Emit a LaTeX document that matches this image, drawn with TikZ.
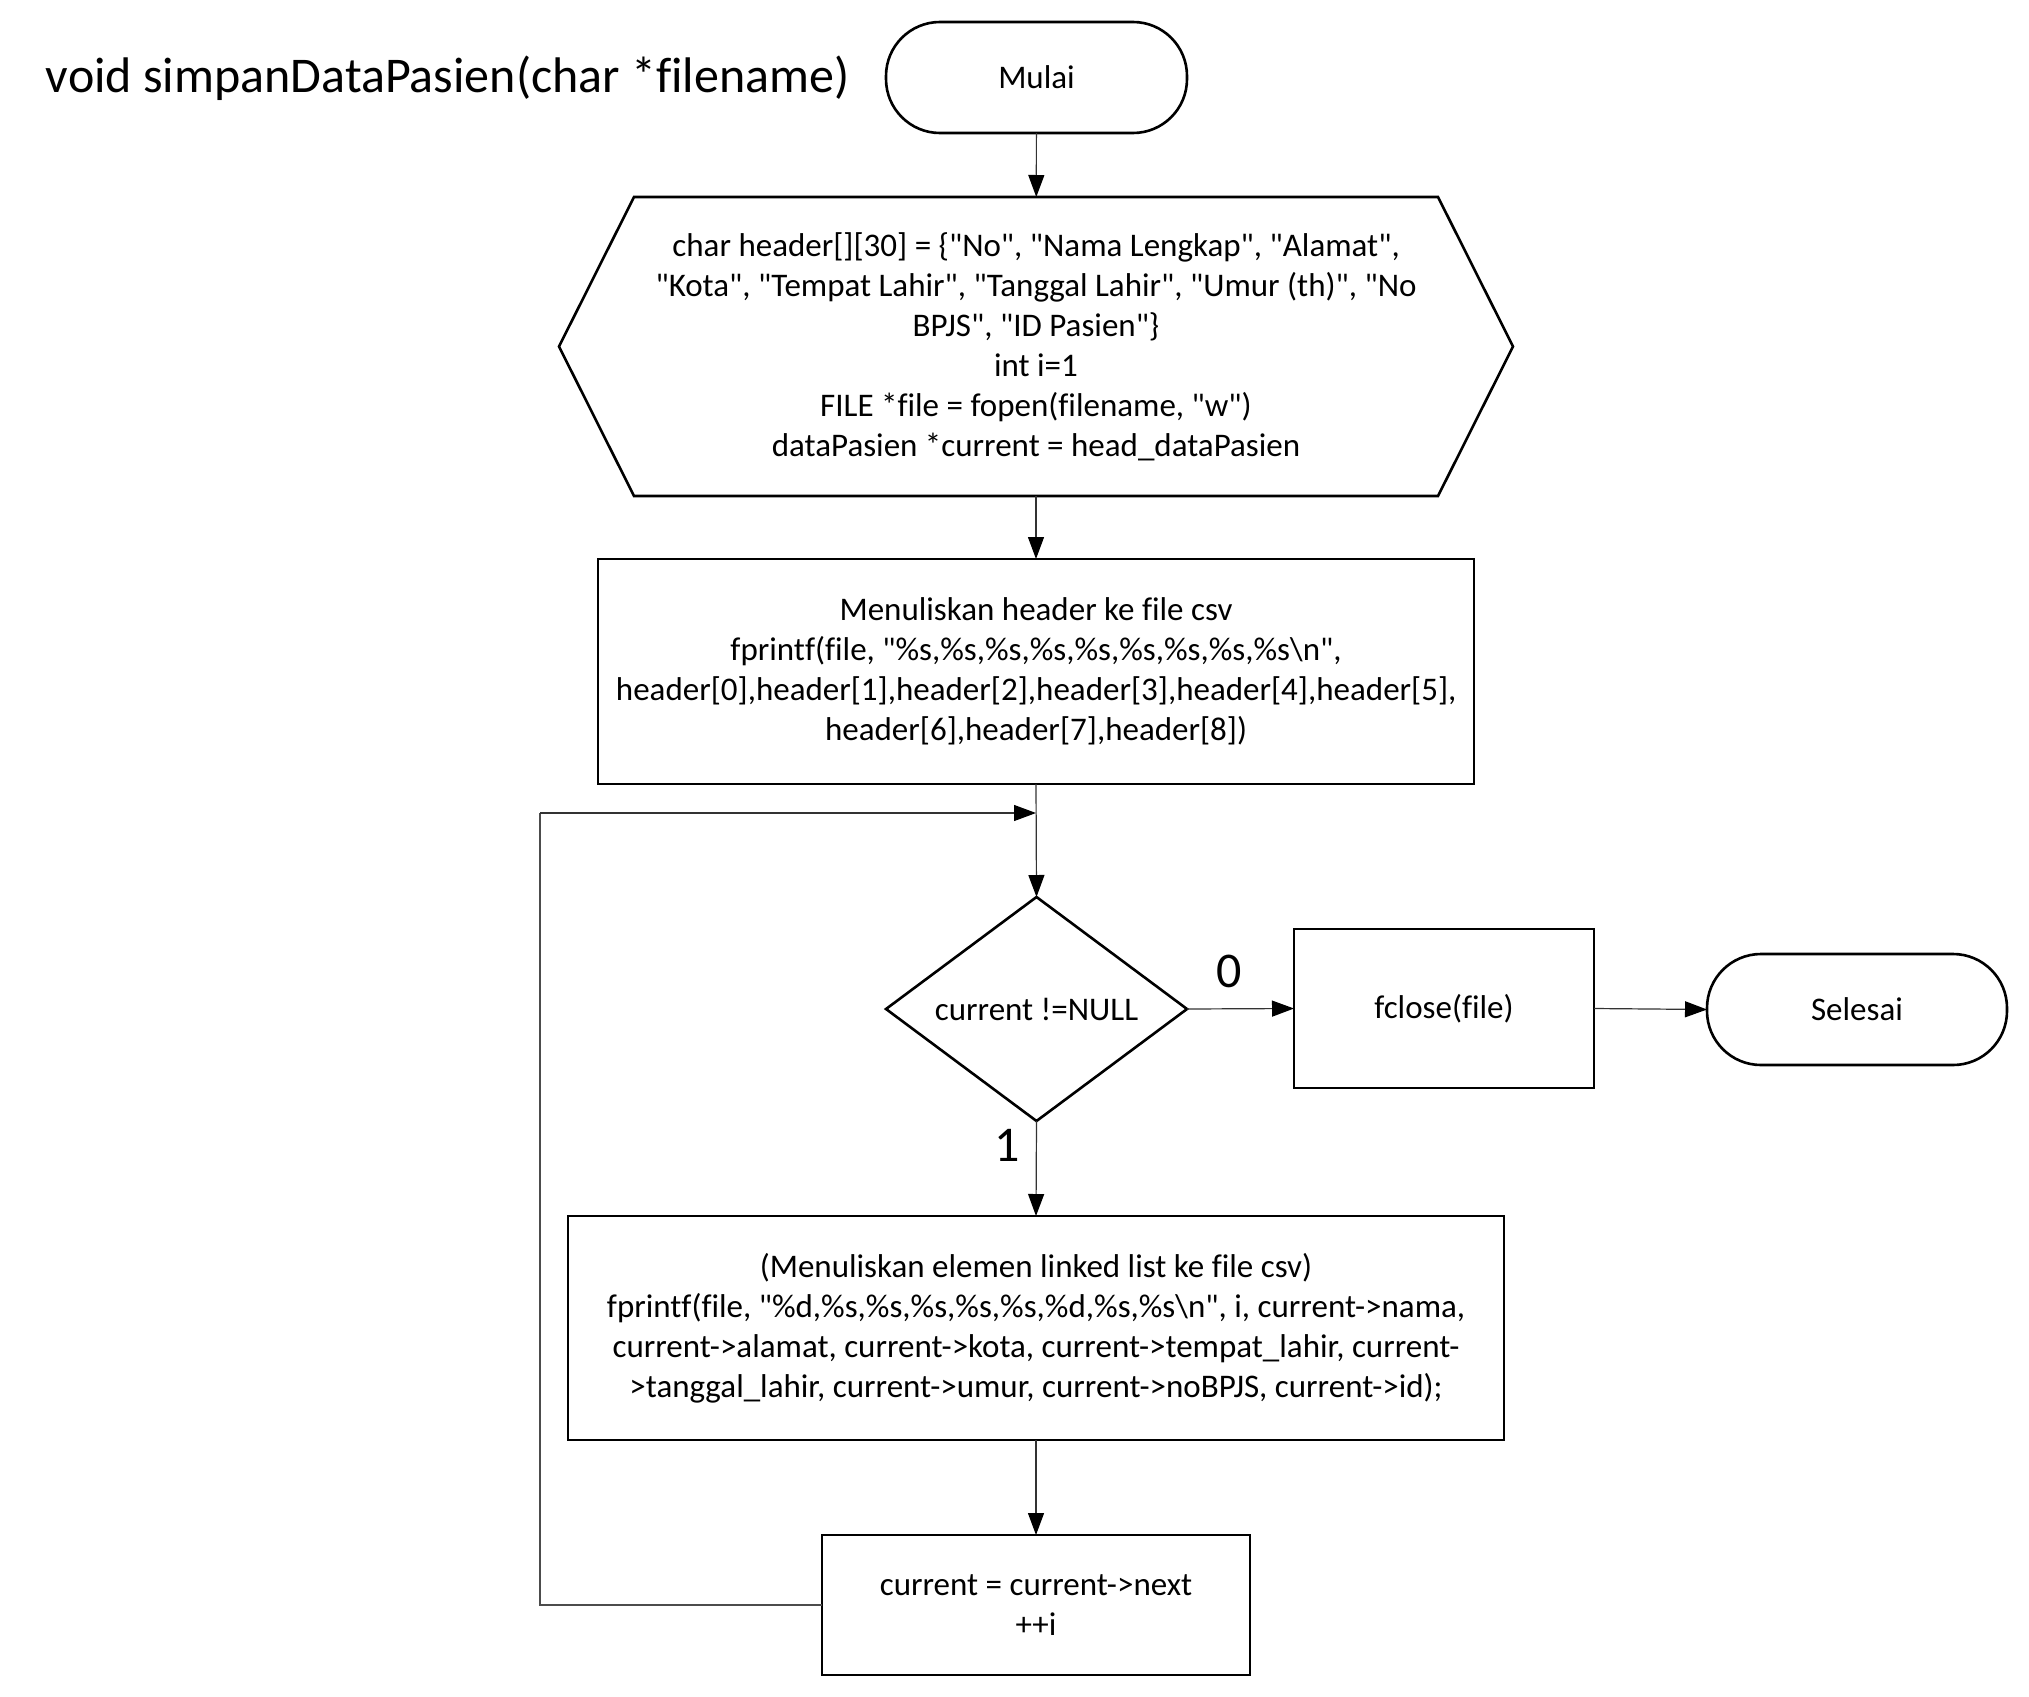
\documentclass[tikz,border=0pt]{standalone}
\usepackage{fontspec}
\setmainfont{Carlito}[Ligatures={TeXOff,CommonOff}]
\usetikzlibrary{arrows.meta}

\begin{document}
\begin{tikzpicture}[x=0.5pt,y=-0.5pt,
  every node/.style={inner sep=0pt, outer sep=0pt, font=\fontsize{16.5}{20}\selectfont, align=center},
  shapeline/.style={line width=1.3pt, draw=black},
  procbox/.style={shapeline, rectangle},
  termbox/.style={shapeline, rectangle, rounded corners=27pt},
  ghost/.style={rectangle, draw=none},
  conn/.style={line width=0.6pt, draw=black!80, -{Triangle[length=11pt,width=8pt,color=black]}},
  wire/.style={line width=0.6pt, draw=black!70},
  biglabel/.style={font=\fontsize{25}{30}\selectfont}
]
\useasboundingbox (0,0) rectangle (2029,1697);

% heading
\node[biglabel, anchor=west] (title) at (46,78) {void simpanDataPasien(char *filename)};

% start terminator
\node[termbox, minimum width=150.5pt, minimum height=55.5pt] (mulai) at (1036.5,77.5) {Mulai};

% initialisation (hexagon)
\node[ghost, minimum width=477pt, minimum height=149.5pt] (init) at (1036,346.5)
  {char header[][30] = \{"No", "Nama Lengkap", "Alamat",\\
   "Kota", "Tempat Lahir", "Tanggal Lahir", "Umur (th)", "No\\
   BPJS", "ID Pasien"\}\\
   int i=1\\
   FILE *file = fopen(filename, "w")\\
   dataPasien *current = head\_dataPasien};
\draw[shapeline, line join=miter]
  ([xshift=37.5pt]init.north west) -- ([xshift=-37.5pt]init.north east) -- (init.east)
  -- ([xshift=-37.5pt]init.south east) -- ([xshift=37.5pt]init.south west) -- (init.west) -- cycle;

% write header
\node[procbox, minimum width=438pt, minimum height=112.5pt] (hdr) at (1036,671.5)
  {Menuliskan header ke file csv\\
   fprintf(file, "\%s,\%s,\%s,\%s,\%s,\%s,\%s,\%s,\%s\textbackslash n",\\
   header[0],header[1],header[2],header[3],header[4],header[5],\\
   header[6],header[7],header[8])};

% loop condition (diamond)
\node[ghost, minimum width=150.5pt, minimum height=112pt] (cond) at (1036.5,1009) {current !=NULL};
\draw[shapeline, line join=miter]
  (cond.north) -- (cond.east) -- (cond.south) -- (cond.west) -- cycle;

% close file
\node[procbox, minimum width=150pt, minimum height=79.5pt] (close) at (1444,1008.5) {fclose(file)};

% end terminator
\node[termbox, minimum width=150pt, minimum height=55.5pt] (selesai) at (1857,1009.5) {Selesai};

% write one record
\node[procbox, minimum width=468pt, minimum height=112pt] (rec) at (1036,1328)
  {(Menuliskan elemen linked list ke file csv)\\
   fprintf(file, "\%d,\%s,\%s,\%s,\%s,\%s,\%d,\%s,\%s\textbackslash n", i, current->nama,\\
   current->alamat, current->kota, current->tempat\_lahir, current-\\
   >tanggal\_lahir, current->umur, current->noBPJS, current->id);};

% advance pointer
\node[procbox, minimum width=214pt, minimum height=70pt] (next) at (1036,1605)
  {current = current->next\\ ++i};

% branch labels
\node[biglabel] (lbl0) at (1229,971) {0};
\node[biglabel] (lbl1) at (1007,1145) {1};

% junction where the loop re-enters
\coordinate (join) at (1036,813);
\coordinate (back) at (540,813);

% connectors
\draw[conn] (mulai) -- (init);
\draw[conn] (init.south) -- (hdr.north);
\draw[conn] (hdr.south) -- (cond.north);
\draw[conn] (cond.east) -- (close.west);
\draw[conn] (close.east) -- (selesai.west);
\draw[conn] (cond.south) -- (rec.north);
\draw[conn] (rec.south) -- (next.north);
\draw[wire] (next.west) -| (back);
\draw[conn] (back) -- (join);
\end{tikzpicture}
\end{document}
